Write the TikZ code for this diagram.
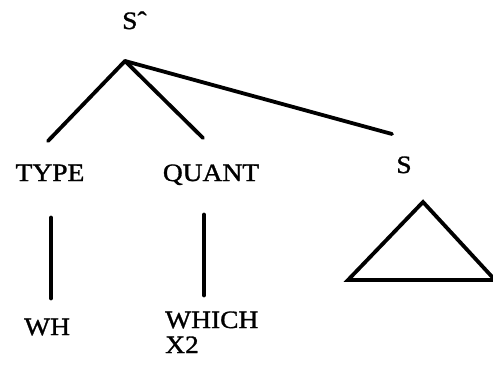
\documentclass[tikz,border=0pt]{standalone}
\usepackage{fontspec}
\setmainfont[FakeStretch=1.1,FakeBold=1.2]{Liberation Serif}
\begin{document}
\begin{tikzpicture}[x=1pt,y=-1pt,
  lbl/.style={inner sep=0pt,font=\fontsize{25}{27}\selectfont},
  branch/.style={line width=3.8pt,line cap=round},
  stem/.style={line width=4.8pt,line cap=round}]
\useasboundingbox[fill=white] (0,0) rectangle (493,381);
% labels
\node[lbl,anchor=base west] (root) at (122,29) {Sˆ};
\node[lbl,anchor=base] (type) at (50,181) {TYPE};
\node[lbl,anchor=base] (quant) at (211,181) {QUANT};
\node[lbl,anchor=base] (s) at (404,173) {S};
\node[lbl,anchor=base west] (wh) at (24,335) {WH};
\node[lbl,anchor=base west] (which) at (165,328) {WHICH};
\node[lbl,anchor=base west] (x2) at (165,353) {X2};
% branch points
\coordinate (apex) at (125,61);
\coordinate (tEnd) at (48,141);
\coordinate (qEnd) at (203,138);
\coordinate (sEnd) at (392,134);
\coordinate (tTop) at (51,218);
\coordinate (tBot) at (51,298);
\coordinate (qTop) at (204,215);
\coordinate (qBot) at (204,295);
\coordinate (triA) at (423,202);
\coordinate (triL) at (348,280);
\coordinate (triR) at (495,280);
% connectors
\draw[branch] (apex) -- (tEnd);
\draw[branch] (apex) -- (qEnd);
\draw[branch] (apex) -- (sEnd);
\draw[stem] (tTop) -- (tBot);
\draw[stem] (qTop) -- (qBot);
\draw[branch,line join=miter] (triL) -- (triA) -- (triR) -- cycle;
\end{tikzpicture}
\end{document}
